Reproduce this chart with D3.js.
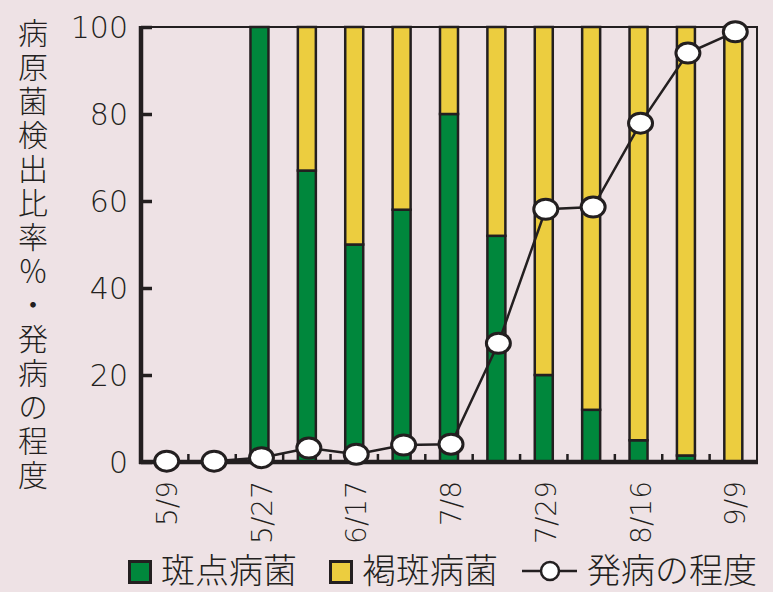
<!DOCTYPE html>
<html>
<head>
<meta charset="utf-8">
<script src="https://cdn.jsdelivr.net/npm/d3@7.9.0/dist/d3.min.js"></script>
<style>
  html, body { margin: 0; padding: 0; background: #eee2e5; }
  svg { display: block; }
  text { font-family: "Noto Sans CJK JP", "Noto Sans", sans-serif; fill: #231f20; }
  text.num { font-family: "DejaVu Sans", sans-serif; font-weight: 200; }
</style>
</head>
<body>
<div id="chart"></div>
<script>
// survey dates (only every other one is labelled on the axis)
const dateLabels = ["5/9", "", "5/27", "", "6/17", "", "7/8", "", "7/29", "", "8/16", "", "9/9"];
// detection ratio (%) of each pathogen
const hantenValues = [0, 0, 100, 67, 50, 58, 80, 52, 20, 12, 5, 1.5, 0];
const kappanValues = [0, 0, 0, 33, 50, 42, 20, 48, 80, 88, 95, 98.5, 100];
// disease severity
const severityValues = [0.2, 0.2, 1, 3.2, 1.8, 3.9, 4.1, 27.3, 58.1, 58.6, 77.9, 94, 98.9];
const yTicks = [0, 20, 40, 60, 80, 100];
const yTitle = "病原菌検出比率％・発病の程度";

const W = 773, H = 592;
const ink = "#231f20", green = "#00873c", yellow = "#eccd3f";

const svg = d3.select("#chart").append("svg")
    .attr("width", W)
    .attr("height", H);

const x = d3.scaleBand()
    .domain(d3.range(dateLabels.length))
    .range([141, 757]);

const y = d3.scaleLinear()
    .domain([0, 100])
    .range([462, 27]);

const barW = 18;

// frame: thin top and right border
svg.append("path")
    .attr("d", `M141,${y(100)}H757V${y(0)}`)
    .attr("fill", "none")
    .attr("stroke", ink)
    .attr("stroke-width", 2);

// stacked bars
const rows = hantenValues.map((g, i) => ({ i, g, k: kappanValues[i] }));
const bars = svg.append("g");

bars.selectAll(".green")
    .data(rows.filter(d => d.g > 0))
    .join("rect")
    .attr("x", d => x(d.i) + x.bandwidth() / 2 - barW / 2)
    .attr("width", barW)
    .attr("y", d => y(d.g))
    .attr("height", d => y(0) - y(d.g))
    .attr("fill", green)
    .attr("stroke", ink)
    .attr("stroke-width", 2.5);

bars.selectAll(".yellow")
    .data(rows.filter(d => d.k > 0))
    .join("rect")
    .attr("x", d => x(d.i) + x.bandwidth() / 2 - barW / 2)
    .attr("width", barW)
    .attr("y", d => y(d.g + d.k))
    .attr("height", d => y(d.g) - y(d.g + d.k))
    .attr("fill", yellow)
    .attr("stroke", ink)
    .attr("stroke-width", 2.5);

// y axis
const yAxis = svg.append("g")
    .attr("transform", "translate(141,0)")
    .call(d3.axisRight(y).tickValues(yTicks).tickSize(11).tickFormat(""));
yAxis.select(".domain").remove();
yAxis.selectAll("line").attr("stroke", ink).attr("stroke-width", 3.5);

svg.append("line")
    .attr("x1", 141).attr("x2", 141)
    .attr("y1", y(100) - 1).attr("y2", y(0) + 2)
    .attr("stroke", ink).attr("stroke-width", 4.5);

svg.append("g").selectAll("text")
    .data(yTicks)
    .join("text")
    .attr("class", "num")
    .attr("x", 128)
    .attr("y", d => y(d))
    .attr("dy", "0.36em")
    .attr("text-anchor", "end")
    .attr("font-size", 30)
    .text(d => d);

// x axis: small ticks between the bars
const xAxis = svg.append("g")
    .attr("transform", `translate(0,${y(0)})`);
xAxis.selectAll("line")
    .data(d3.range(1, dateLabels.length))
    .join("line")
    .attr("x1", d => x(d)).attr("x2", d => x(d))
    .attr("y1", 0).attr("y2", -8)
    .attr("stroke", ink).attr("stroke-width", 2.5);
xAxis.append("line")
    .attr("x1", 139).attr("x2", 758)
    .attr("stroke", ink).attr("stroke-width", 4.5);

svg.append("g").selectAll("text")
    .data(dateLabels.map((t, i) => ({ t, i })).filter(d => d.t))
    .join("text")
    .attr("class", "num")
    .attr("transform", d => `translate(${x(d.i) + x.bandwidth() / 2 + 2},481) rotate(-90)`)
    .attr("text-anchor", "end")
    .attr("dy", "0.36em")
    .attr("font-size", 28)
    .text(d => d.t);

// severity line
const line = d3.line()
    .x((d, i) => x(i) + x.bandwidth() / 2 + 2)
    .y(d => y(d));

svg.append("path")
    .datum(severityValues)
    .attr("d", line)
    .attr("fill", "none")
    .attr("stroke", ink)
    .attr("stroke-width", 2.5);

svg.append("g").selectAll("ellipse")
    .data(severityValues)
    .join("ellipse")
    .attr("cx", (d, i) => x(i) + x.bandwidth() / 2 + 2)
    .attr("cy", d => y(d))
    .attr("rx", 12)
    .attr("ry", 10)
    .attr("fill", "#fff")
    .attr("stroke", ink)
    .attr("stroke-width", 3);

// y title, written vertically
svg.append("text")
    .attr("x", 33)
    .attr("y", 18)
    .style("writing-mode", "vertical-rl")
    .style("text-orientation", "upright")
    .style("letter-spacing", "4px")
    .attr("font-size", 30)
    .attr("font-weight", 300)
    .text(yTitle);

// legend
const legend = svg.append("g");
[[128, green, "斑点病菌"], [329, yellow, "褐斑病菌"]].forEach(([lx, c, label]) => {
  legend.append("rect")
    .attr("x", lx + 1.5).attr("y", 561.5)
    .attr("width", 21).attr("height", 21)
    .attr("fill", c).attr("stroke", ink).attr("stroke-width", 3);
  legend.append("text")
    .attr("x", lx + 33).attr("y", 571)
    .attr("dy", "0.36em")
    .attr("font-size", 34)
    .attr("font-weight", 300)
    .text(label);
});
legend.append("line")
  .attr("x1", 522).attr("x2", 577).attr("y1", 571).attr("y2", 571)
  .attr("stroke", ink).attr("stroke-width", 2.5);
legend.append("ellipse")
  .attr("cx", 550).attr("cy", 571).attr("rx", 9).attr("ry", 9)
  .attr("fill", "#fff").attr("stroke", ink).attr("stroke-width", 2.5);
legend.append("text")
  .attr("x", 587).attr("y", 571)
  .attr("dy", "0.36em")
  .attr("font-size", 34)
  .attr("font-weight", 300)
  .text("発病の程度");
</script>
</body>
</html>
